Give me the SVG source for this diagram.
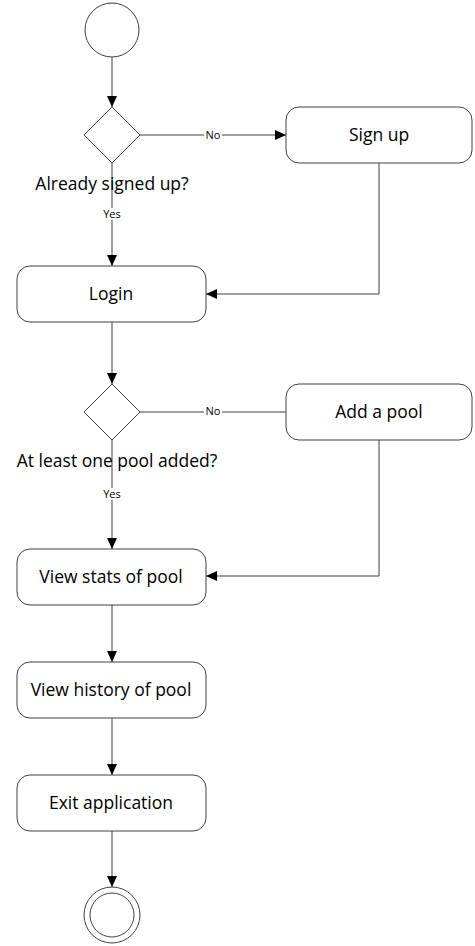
<svg xmlns="http://www.w3.org/2000/svg" width="475" height="946" viewBox="0 0 475 946">
<style>
.n{fill:#fff;stroke:#404040;stroke-width:1}
.t{font-family:"Open Sans","Noto Sans",sans-serif;font-size:17.5px;fill:#000;text-anchor:middle}
.s{font-family:"Open Sans","Noto Sans",sans-serif;font-size:11px;fill:#000;text-anchor:middle}
.c{fill:none;stroke:#404040;stroke-width:1}
.lb{fill:#fff}
</style>
<defs>
<marker id="a" markerWidth="12" markerHeight="12" refX="11" refY="6" orient="auto" markerUnits="userSpaceOnUse">
<path d="M0,1 L11,6 L0,11 Z" fill="#000"/>
</marker>
</defs>
<g id="connectors">
<path class="c" d="M112,57 V107" marker-end="url(#a)"/>
<path class="c" d="M140,135 H286" marker-end="url(#a)"/>
<path class="c" d="M112,163 V266" marker-end="url(#a)"/>
<path class="c" d="M379,163 V294 H206" marker-end="url(#a)"/>
<path class="c" d="M112,322 V384" marker-end="url(#a)"/>
<path class="c" d="M140,412 H286"/>
<path class="c" d="M112,440 V549" marker-end="url(#a)"/>
<path class="c" d="M379,440 V576 H206" marker-end="url(#a)"/>
<path class="c" d="M112,605 V662" marker-end="url(#a)"/>
<path class="c" d="M112,718 V775" marker-end="url(#a)"/>
<path class="c" d="M112,831 V887" marker-end="url(#a)"/>
<rect class="lb" x="204" y="129" width="18" height="12"/>
<text class="s" x="213" y="139">No</text>
<rect class="lb" x="101" y="208" width="22" height="12"/>
<text class="s" x="112" y="218">Yes</text>
<rect class="lb" x="204" y="406" width="18" height="12"/>
<text class="s" x="213" y="415">No</text>
<rect class="lb" x="101" y="488" width="22" height="12"/>
<text class="s" x="112" y="498">Yes</text>
</g>
<g id="start"><circle class="n" cx="112" cy="30" r="27"/></g>
<g id="decision1">
<path class="n" d="M112,107 L140,135 L112,163 L84,135 Z"/>
<text class="t" x="112" y="190">Already signed up?</text>
</g>
<g id="signup"><rect class="n" x="286" y="107" width="186" height="56" rx="13"/><text class="t" x="379" y="141">Sign up</text></g>
<g id="login"><rect class="n" x="17" y="266" width="189" height="56" rx="13"/><text class="t" x="111" y="300">Login</text></g>
<g id="decision2">
<path class="n" d="M112,384 L140,412 L112,440 L84,412 Z"/>
<text class="t" x="117" y="467">At least one pool added?</text>
</g>
<g id="addpool"><rect class="n" x="286" y="384" width="186" height="56" rx="13"/><text class="t" x="379" y="418">Add a pool</text></g>
<g id="viewstats"><rect class="n" x="17" y="549" width="189" height="56" rx="13"/><text class="t" x="111" y="583">View stats of pool</text></g>
<g id="viewhistory"><rect class="n" x="17" y="662" width="189" height="56" rx="13"/><text class="t" x="111" y="696">View history of pool</text></g>
<g id="exit"><rect class="n" x="17" y="775" width="189" height="56" rx="13"/><text class="t" x="111" y="809">Exit application</text></g>
<g id="end"><circle class="n" cx="112" cy="915" r="28"/><circle class="n" cx="112" cy="915" r="22"/></g>
</svg>
